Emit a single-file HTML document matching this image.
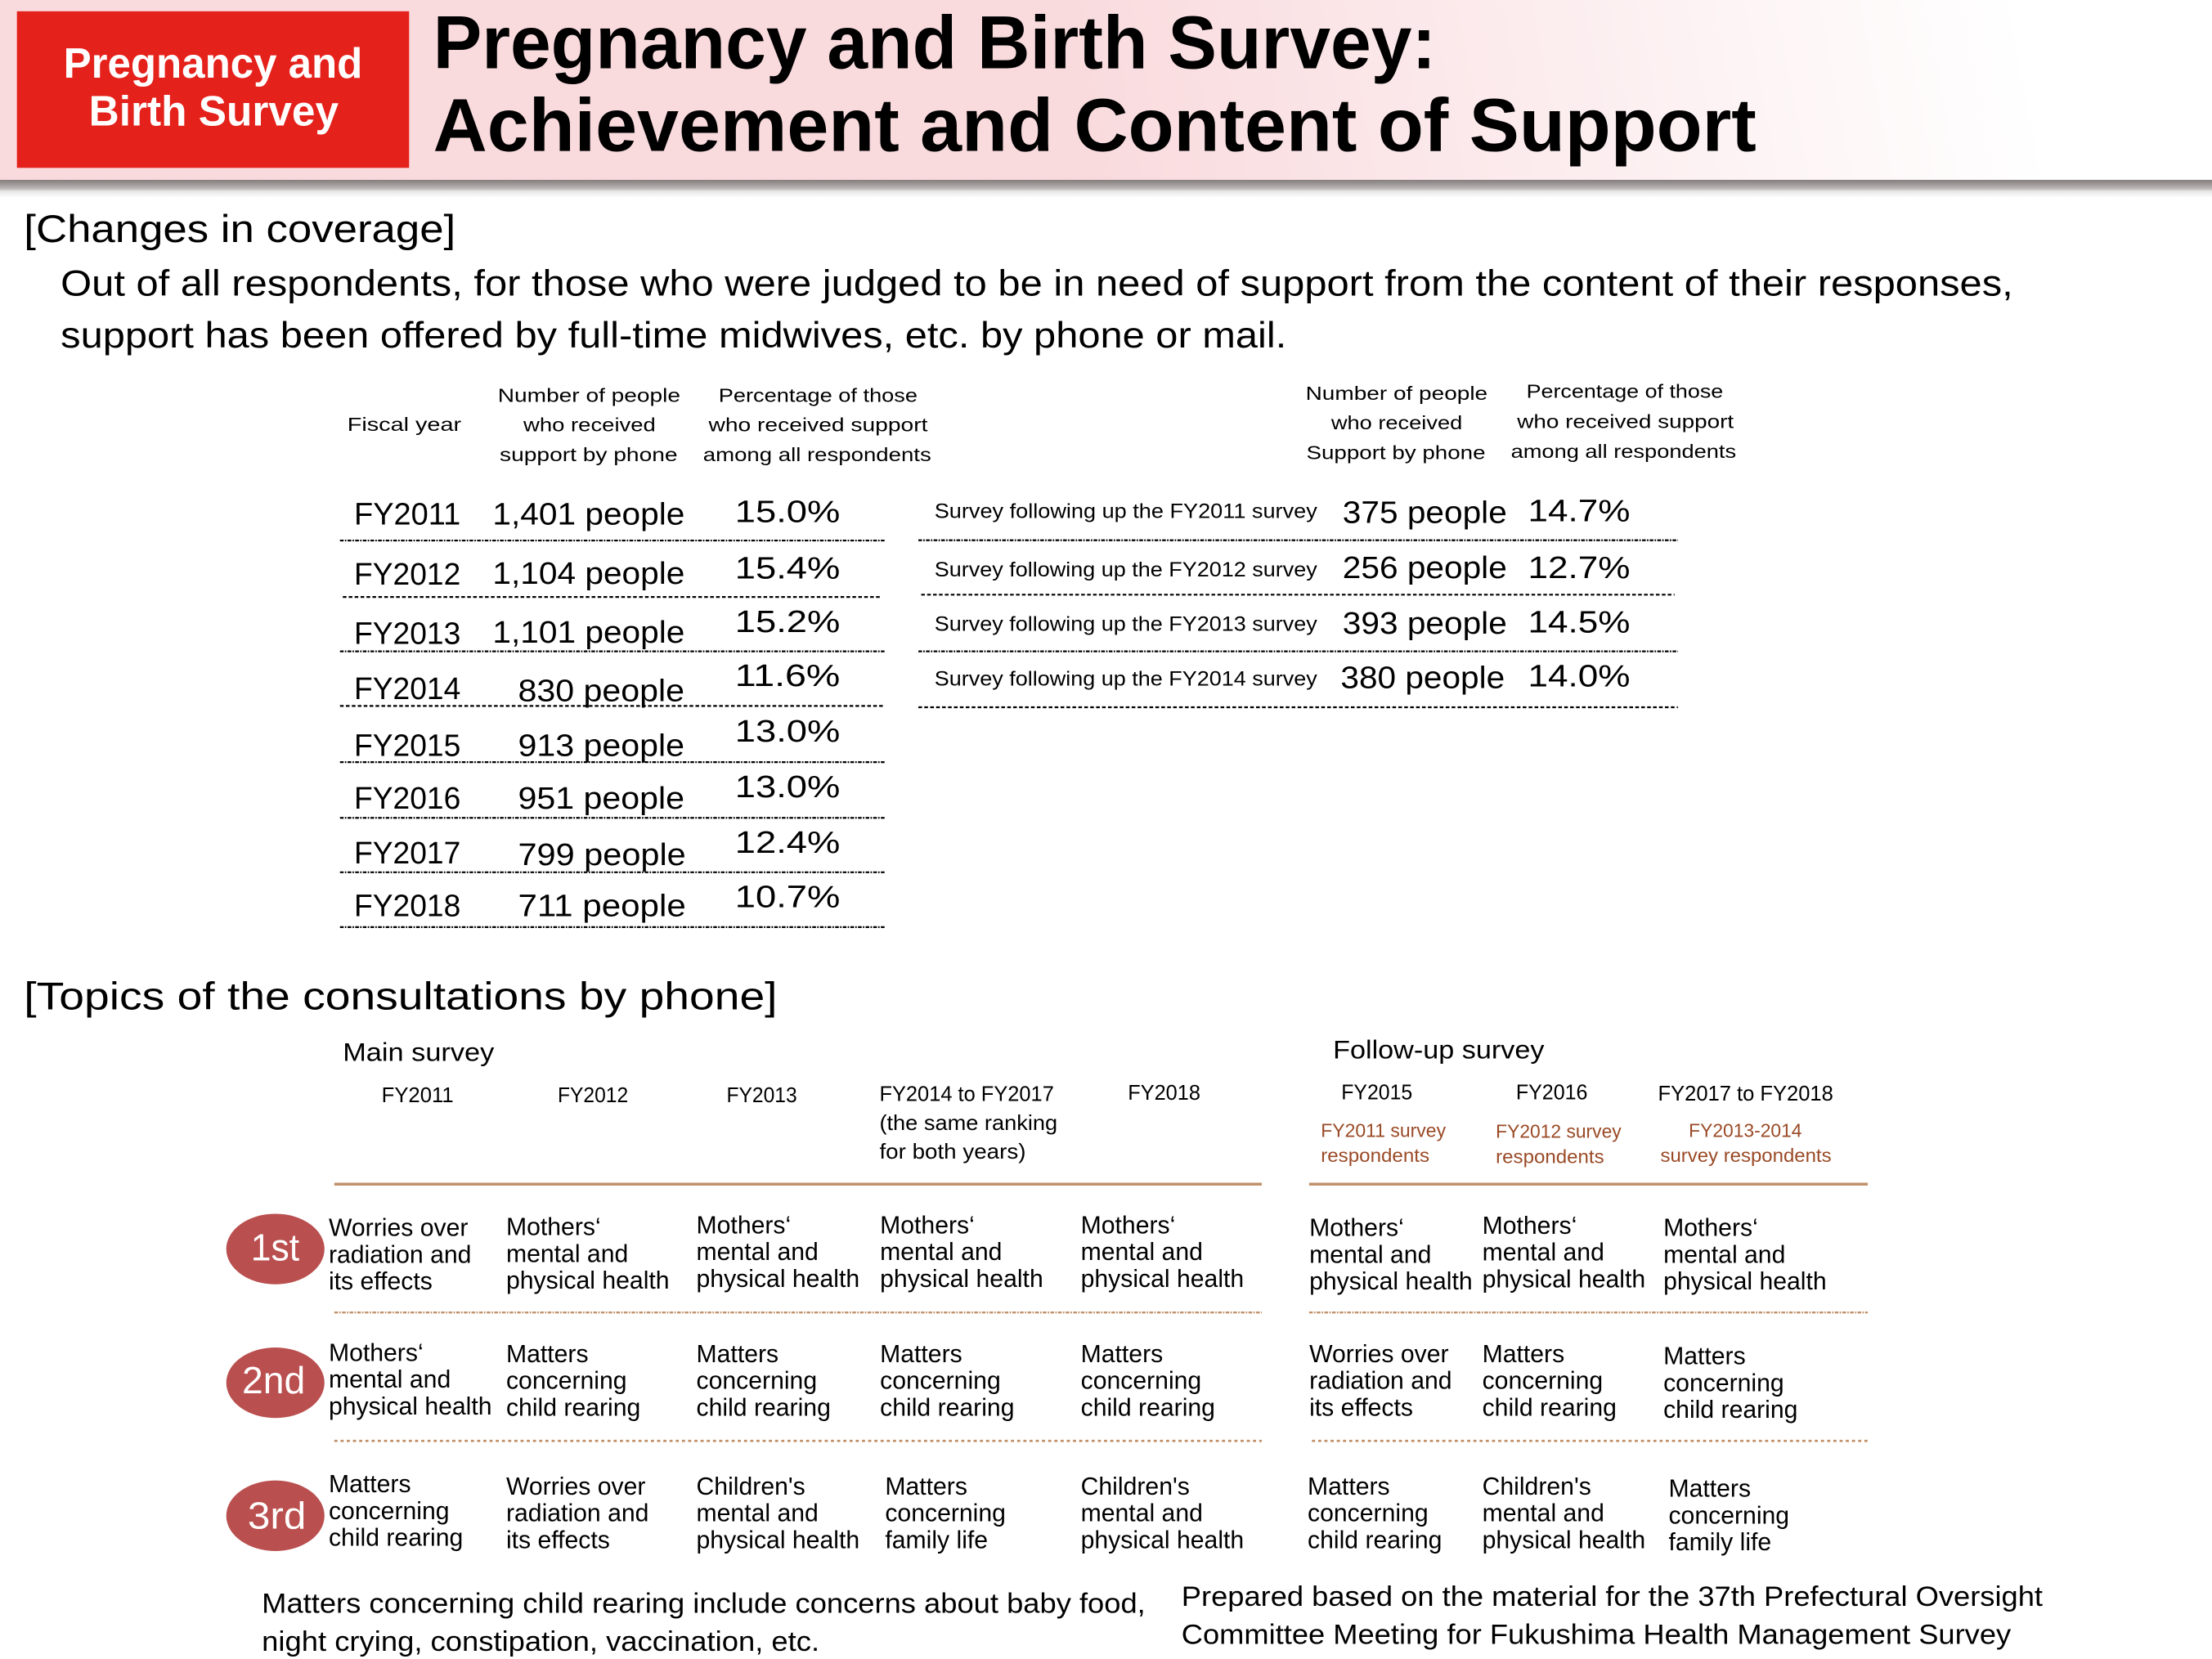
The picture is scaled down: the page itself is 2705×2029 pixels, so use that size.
<!DOCTYPE html>
<html>
<head>
<meta charset="utf-8">
<style>
html,body{margin:0;padding:0;background:#fff;}
body{width:2705px;height:2029px;overflow:hidden;}
svg{display:block;}
text{font-family:"Liberation Sans",Arial,sans-serif;}
</style>
</head>
<body>
<svg width="2705" height="2029" viewBox="0 0 1568 1176.15" preserveAspectRatio="none" xmlns="http://www.w3.org/2000/svg">
<defs>
  <linearGradient id="hdrW" gradientUnits="userSpaceOnUse" x1="760" y1="125" x2="1430" y2="0">
    <stop offset="0" stop-color="#ffffff" stop-opacity="0"/>
    <stop offset="0.55" stop-color="#ffffff" stop-opacity="0.55"/>
    <stop offset="1" stop-color="#ffffff" stop-opacity="1"/>
  </linearGradient>
  <linearGradient id="shadow" x1="0" y1="0" x2="0" y2="1">
    <stop offset="0" stop-color="#847e7d"/>
    <stop offset="0.5" stop-color="#a39e9d"/>
    <stop offset="1" stop-color="#cdc9c8"/>
  </linearGradient>
  <linearGradient id="shadow2" x1="0" y1="0" x2="0" y2="1">
    <stop offset="0" stop-color="#e4e1e1"/>
    <stop offset="1" stop-color="#ffffff"/>
  </linearGradient>
</defs>

<!-- Header -->
<rect x="0" y="0" width="1568" height="127.5" fill="#f9dadd"/>
<rect x="0" y="0" width="1568" height="127.5" fill="url(#hdrW)"/>
<rect x="0" y="127.5" width="1568" height="7.5" fill="url(#shadow)"/>
<rect x="0" y="135" width="1568" height="5" fill="url(#shadow2)"/>
<rect x="12" y="8" width="278" height="111" fill="#e4211b"/>
<text x="45" y="55" font-size="30" font-weight="bold" fill="#ffffff" textLength="212" lengthAdjust="spacingAndGlyphs">Pregnancy and</text>
<text x="63" y="89" font-size="30" font-weight="bold" fill="#ffffff" textLength="177" lengthAdjust="spacingAndGlyphs">Birth Survey</text>
<text x="307" y="48.5" font-size="53" font-weight="bold" fill="#000" textLength="711" lengthAdjust="spacingAndGlyphs">Pregnancy and Birth Survey:</text>
<text x="307" y="107" font-size="53" font-weight="bold" fill="#000" textLength="938" lengthAdjust="spacingAndGlyphs">Achievement and Content of Support</text>

<!-- Changes in coverage -->
<text x="17" y="171.5" font-size="27.5" fill="#000" textLength="306" lengthAdjust="spacingAndGlyphs">[Changes in coverage]</text>
<text x="43" y="209.7" font-size="25.8" fill="#000" textLength="1384" lengthAdjust="spacingAndGlyphs">Out of all respondents, for those who were judged to be in need of support from the content of their responses,</text>
<text x="43" y="246.4" font-size="25.8" fill="#000" textLength="869" lengthAdjust="spacingAndGlyphs">support has been offered by full-time midwives, etc. by phone or mail.</text>

<!-- Table headers -->
<g font-size="13.5" fill="#000">
  <text x="246.2" y="305.4" textLength="80.8" lengthAdjust="spacingAndGlyphs">Fiscal year</text>
  <text x="352.9" y="285" textLength="129.4" lengthAdjust="spacingAndGlyphs">Number of people</text>
  <text x="371" y="305.9" textLength="93.8" lengthAdjust="spacingAndGlyphs">who received</text>
  <text x="354.2" y="326.8" textLength="126.1" lengthAdjust="spacingAndGlyphs">support by phone</text>
  <text x="509.4" y="285" textLength="141" lengthAdjust="spacingAndGlyphs">Percentage of those</text>
  <text x="502.3" y="305.9" textLength="155.3" lengthAdjust="spacingAndGlyphs">who received support</text>
  <text x="498.4" y="326.8" textLength="161.7" lengthAdjust="spacingAndGlyphs">among all respondents</text>

  <text x="925.5" y="283.5" textLength="129" lengthAdjust="spacingAndGlyphs">Number of people</text>
  <text x="943.6" y="304.3" textLength="93" lengthAdjust="spacingAndGlyphs">who received</text>
  <text x="926" y="325.6" textLength="127" lengthAdjust="spacingAndGlyphs">Support by phone</text>
  <text x="1082" y="282.1" textLength="139.5" lengthAdjust="spacingAndGlyphs">Percentage of those</text>
  <text x="1075.4" y="303.4" textLength="153.6" lengthAdjust="spacingAndGlyphs">who received support</text>
  <text x="1071" y="324.6" textLength="159.7" lengthAdjust="spacingAndGlyphs">among all respondents</text>
</g>

<!-- Left table rows -->
<g font-size="22" fill="#000">
  <text x="251" y="372" textLength="75.5" lengthAdjust="spacingAndGlyphs">FY2011</text>
  <text x="251" y="414.5" textLength="75.5" lengthAdjust="spacingAndGlyphs">FY2012</text>
  <text x="251" y="456.5" textLength="75.5" lengthAdjust="spacingAndGlyphs">FY2013</text>
  <text x="251" y="495.6" textLength="75.5" lengthAdjust="spacingAndGlyphs">FY2014</text>
  <text x="251" y="535.8" textLength="75.5" lengthAdjust="spacingAndGlyphs">FY2015</text>
  <text x="251" y="573.3" textLength="75.5" lengthAdjust="spacingAndGlyphs">FY2016</text>
  <text x="251" y="612.1" textLength="75.5" lengthAdjust="spacingAndGlyphs">FY2017</text>
  <text x="251" y="649.5" textLength="75.5" lengthAdjust="spacingAndGlyphs">FY2018</text>

  <text x="349.2" y="372" textLength="136.2" lengthAdjust="spacingAndGlyphs">1,401 people</text>
  <text x="349.2" y="414" textLength="136.2" lengthAdjust="spacingAndGlyphs">1,104 people</text>
  <text x="349.2" y="455.6" textLength="136.2" lengthAdjust="spacingAndGlyphs">1,101 people</text>
  <text x="367.2" y="497" textLength="118" lengthAdjust="spacingAndGlyphs">830 people</text>
  <text x="367.2" y="535.8" textLength="118" lengthAdjust="spacingAndGlyphs">913 people</text>
  <text x="367.2" y="573.3" textLength="118" lengthAdjust="spacingAndGlyphs">951 people</text>
  <text x="367.2" y="613.4" textLength="119" lengthAdjust="spacingAndGlyphs">799 people</text>
  <text x="367.2" y="649.5" textLength="119" lengthAdjust="spacingAndGlyphs">711 people</text>

  <text x="521" y="370.1" textLength="74.5" lengthAdjust="spacingAndGlyphs">15.0%</text>
  <text x="521" y="410.2" textLength="74.5" lengthAdjust="spacingAndGlyphs">15.4%</text>
  <text x="521" y="448.1" textLength="74.5" lengthAdjust="spacingAndGlyphs">15.2%</text>
  <text x="521" y="486.4" textLength="74.5" lengthAdjust="spacingAndGlyphs">11.6%</text>
  <text x="521" y="525.7" textLength="74.5" lengthAdjust="spacingAndGlyphs">13.0%</text>
  <text x="521" y="565.3" textLength="74.5" lengthAdjust="spacingAndGlyphs">13.0%</text>
  <text x="521" y="604.6" textLength="74.5" lengthAdjust="spacingAndGlyphs">12.4%</text>
  <text x="521" y="643.2" textLength="74.5" lengthAdjust="spacingAndGlyphs">10.7%</text>
</g>

<!-- Left dotted lines -->
<g stroke="#000" stroke-width="1.3" fill="none">
  <line x1="241" y1="383.2" x2="627" y2="383.2" stroke-dasharray="2.6 0.9 1 0.9"/>
  <line x1="243" y1="423.2" x2="625" y2="423.2" stroke-dasharray="2.6 1.6"/>
  <line x1="241" y1="461.8" x2="627" y2="461.8" stroke-dasharray="2.6 0.9 1 0.9"/>
  <line x1="241" y1="500.5" x2="627" y2="500.5" stroke-dasharray="2.6 1.6"/>
  <line x1="241" y1="540.3" x2="627" y2="540.3" stroke-dasharray="2.6 0.9 1 0.9"/>
  <line x1="241" y1="579.8" x2="627" y2="579.8" stroke-dasharray="2.6 0.9 1 0.9"/>
  <line x1="241" y1="618.4" x2="627" y2="618.4" stroke-dasharray="2.6 0.9 1 0.9"/>
  <line x1="241" y1="657.3" x2="627" y2="657.3" stroke-dasharray="2.6 0.9 1 0.9"/>
</g>

<!-- Right table rows -->
<g font-size="14.5" fill="#000">
  <text x="662.4" y="367.1" textLength="271.3" lengthAdjust="spacingAndGlyphs">Survey following up the FY2011 survey</text>
  <text x="662.4" y="408.7" textLength="271.3" lengthAdjust="spacingAndGlyphs">Survey following up the FY2012 survey</text>
  <text x="662.4" y="447.3" textLength="271.3" lengthAdjust="spacingAndGlyphs">Survey following up the FY2013 survey</text>
  <text x="662.4" y="486" textLength="271.3" lengthAdjust="spacingAndGlyphs">Survey following up the FY2014 survey</text>
</g>
<g font-size="22" fill="#000">
  <text x="951.7" y="370.6" textLength="116.5" lengthAdjust="spacingAndGlyphs">375 people</text>
  <text x="951.7" y="409.7" textLength="116.5" lengthAdjust="spacingAndGlyphs">256 people</text>
  <text x="951.7" y="449.3" textLength="116.5" lengthAdjust="spacingAndGlyphs">393 people</text>
  <text x="950.3" y="487.9" textLength="116.4" lengthAdjust="spacingAndGlyphs">380 people</text>
  <text x="1083.1" y="369.5" textLength="72.4" lengthAdjust="spacingAndGlyphs">14.7%</text>
  <text x="1083.1" y="409.7" textLength="72.4" lengthAdjust="spacingAndGlyphs">12.7%</text>
  <text x="1083.1" y="448.3" textLength="72.4" lengthAdjust="spacingAndGlyphs">14.5%</text>
  <text x="1083.1" y="486.6" textLength="72.4" lengthAdjust="spacingAndGlyphs">14.0%</text>
</g>
<g stroke="#000" stroke-width="1.3" fill="none">
  <line x1="651" y1="383" x2="1189.4" y2="383" stroke-dasharray="2.6 0.9 1 0.9"/>
  <line x1="653" y1="421.6" x2="1187" y2="421.6" stroke-dasharray="2.6 1.6"/>
  <line x1="651" y1="461.8" x2="1189.4" y2="461.8" stroke-dasharray="2.6 0.9 1 0.9"/>
  <line x1="651" y1="501.4" x2="1189.4" y2="501.4" stroke-dasharray="2.6 1.6"/>
</g>

<!-- Topics section -->
<text x="17" y="715.7" font-size="27.5" fill="#000" textLength="534" lengthAdjust="spacingAndGlyphs">[Topics of the consultations by phone]</text>
<text x="243" y="752" font-size="18" fill="#000" textLength="107.3" lengthAdjust="spacingAndGlyphs">Main survey</text>
<text x="944.9" y="750.4" font-size="18" fill="#000" textLength="149.8" lengthAdjust="spacingAndGlyphs">Follow-up survey</text>

<g font-size="15" fill="#000">
  <text x="270.5" y="781.4" textLength="51" lengthAdjust="spacingAndGlyphs">FY2011</text>
  <text x="395.3" y="781.4" textLength="50" lengthAdjust="spacingAndGlyphs">FY2012</text>
  <text x="515" y="781.4" textLength="50" lengthAdjust="spacingAndGlyphs">FY2013</text>
  <text x="623.4" y="780.5" textLength="123.7" lengthAdjust="spacingAndGlyphs">FY2014 to FY2017</text>
  <text x="623.4" y="801" textLength="126.2" lengthAdjust="spacingAndGlyphs">(the same ranking</text>
  <text x="623.4" y="821.5" textLength="103.8" lengthAdjust="spacingAndGlyphs">for both years)</text>
  <text x="799.5" y="779.8" textLength="51.4" lengthAdjust="spacingAndGlyphs">FY2018</text>
  <text x="950.8" y="779.3" textLength="50.4" lengthAdjust="spacingAndGlyphs">FY2015</text>
  <text x="1074.6" y="779.5" textLength="50.8" lengthAdjust="spacingAndGlyphs">FY2016</text>
  <text x="1175.3" y="780.3" textLength="124.2" lengthAdjust="spacingAndGlyphs">FY2017 to FY2018</text>
</g>
<g font-size="13.5" fill="#9a4a26">
  <text x="936.3" y="806" textLength="88.6" lengthAdjust="spacingAndGlyphs">FY2011 survey</text>
  <text x="936.3" y="823.6" textLength="77" lengthAdjust="spacingAndGlyphs">respondents</text>
  <text x="1060.3" y="806.7" textLength="89" lengthAdjust="spacingAndGlyphs">FY2012 survey</text>
  <text x="1060.3" y="824.6" textLength="76.8" lengthAdjust="spacingAndGlyphs">respondents</text>
  <text x="1197.1" y="806" textLength="80.2" lengthAdjust="spacingAndGlyphs">FY2013-2014</text>
  <text x="1177" y="823.6" textLength="121.2" lengthAdjust="spacingAndGlyphs">survey respondents</text>
</g>

<!-- Tan lines -->
<g stroke="#c0916a" fill="none">
  <line x1="237" y1="839.5" x2="894.4" y2="839.5" stroke-width="2"/>
  <line x1="928" y1="839.5" x2="1324" y2="839.5" stroke-width="2"/>
  <line x1="237" y1="930.5" x2="894.4" y2="930.5" stroke-width="1.4" stroke-dasharray="2.6 0.9 1 0.9"/>
  <line x1="928" y1="930.5" x2="1324" y2="930.5" stroke-width="1.4" stroke-dasharray="2.6 0.9 1 0.9"/>
  <line x1="237" y1="1021.5" x2="894.4" y2="1021.5" stroke-width="1.6" stroke-dasharray="2.2 2.2"/>
  <line x1="930" y1="1021.5" x2="1324" y2="1021.5" stroke-width="1.6" stroke-dasharray="2.2 2.2"/>
</g>

<!-- Rank circles -->
<g fill="#b94f4e">
  <ellipse cx="195.2" cy="885.5" rx="34.8" ry="25"/>
  <ellipse cx="195.2" cy="980.3" rx="34.8" ry="25"/>
  <ellipse cx="195.2" cy="1074.6" rx="34.8" ry="25"/>
</g>
<g font-size="27" fill="#ffffff">
  <text x="177.8" y="893.7" textLength="34.4" lengthAdjust="spacingAndGlyphs">1st</text>
  <text x="171.6" y="987.8" textLength="44.8" lengthAdjust="spacingAndGlyphs">2nd</text>
  <text x="175.6" y="1083.7" textLength="41.4" lengthAdjust="spacingAndGlyphs">3rd</text>
</g>

<!-- Topic cells -->
<g font-size="17.5" fill="#000">
  <!-- Row 1 -->
  <text x="233" y="876.3">Worries over</text>
  <text x="233" y="895.3">radiation and</text>
  <text x="233" y="914.2">its effects</text>

  <text x="358.8" y="875.7">Mothers‘</text>
  <text x="358.8" y="894.7">mental and</text>
  <text x="358.8" y="913.7">physical health</text>

  <text x="493.6" y="874.3">Mothers‘</text>
  <text x="493.6" y="893.3">mental and</text>
  <text x="493.6" y="912.3">physical health</text>

  <text x="623.8" y="874.3">Mothers‘</text>
  <text x="623.8" y="893.3">mental and</text>
  <text x="623.8" y="912.3">physical health</text>

  <text x="766.1" y="874.3">Mothers‘</text>
  <text x="766.1" y="893.3">mental and</text>
  <text x="766.1" y="912.3">physical health</text>

  <text x="928.1" y="876.3">Mothers‘</text>
  <text x="928.1" y="895.3">mental and</text>
  <text x="928.1" y="914.2">physical health</text>

  <text x="1050.7" y="874.7">Mothers‘</text>
  <text x="1050.7" y="893.7">mental and</text>
  <text x="1050.7" y="912.7">physical health</text>

  <text x="1179.1" y="876.3">Mothers‘</text>
  <text x="1179.1" y="895.3">mental and</text>
  <text x="1179.1" y="914.2">physical health</text>

  <!-- Row 2 -->
  <text x="233" y="964.8">Mothers‘</text>
  <text x="233" y="983.7">mental and</text>
  <text x="233" y="1002.7">physical health</text>

  <text x="358.8" y="965.7">Matters</text>
  <text x="358.8" y="984.7">concerning</text>
  <text x="358.8" y="1003.6">child rearing</text>

  <text x="493.6" y="965.7">Matters</text>
  <text x="493.6" y="984.7">concerning</text>
  <text x="493.6" y="1003.6">child rearing</text>

  <text x="623.8" y="965.7">Matters</text>
  <text x="623.8" y="984.7">concerning</text>
  <text x="623.8" y="1003.6">child rearing</text>

  <text x="766.1" y="965.7">Matters</text>
  <text x="766.1" y="984.7">concerning</text>
  <text x="766.1" y="1003.6">child rearing</text>

  <text x="928.1" y="965.7">Worries over</text>
  <text x="928.1" y="984.7">radiation and</text>
  <text x="928.1" y="1003.6">its effects</text>

  <text x="1050.7" y="965.7">Matters</text>
  <text x="1050.7" y="984.7">concerning</text>
  <text x="1050.7" y="1003.6">child rearing</text>

  <text x="1179.1" y="967.3">Matters</text>
  <text x="1179.1" y="986.3">concerning</text>
  <text x="1179.1" y="1005.2">child rearing</text>

  <!-- Row 3 -->
  <text x="233" y="1058">Matters</text>
  <text x="233" y="1076.9">concerning</text>
  <text x="233" y="1095.9">child rearing</text>

  <text x="358.8" y="1059.5">Worries over</text>
  <text x="358.8" y="1078.5">radiation and</text>
  <text x="358.8" y="1097.5">its effects</text>

  <text x="493.6" y="1059.5">Children's</text>
  <text x="493.6" y="1078.5">mental and</text>
  <text x="493.6" y="1097.5">physical health</text>

  <text x="627.4" y="1059.5">Matters</text>
  <text x="627.4" y="1078.5">concerning</text>
  <text x="627.4" y="1097.5">family life</text>

  <text x="766.1" y="1059.5">Children's</text>
  <text x="766.1" y="1078.5">mental and</text>
  <text x="766.1" y="1097.5">physical health</text>

  <text x="926.9" y="1059.5">Matters</text>
  <text x="926.9" y="1078.5">concerning</text>
  <text x="926.9" y="1097.5">child rearing</text>

  <text x="1050.7" y="1059.5">Children's</text>
  <text x="1050.7" y="1078.5">mental and</text>
  <text x="1050.7" y="1097.5">physical health</text>

  <text x="1182.8" y="1061.1">Matters</text>
  <text x="1182.8" y="1080.1">concerning</text>
  <text x="1182.8" y="1099.1">family life</text>
</g>

<!-- Footnotes -->
<g font-size="20" fill="#000">
  <text x="185.6" y="1143.3" textLength="626.4" lengthAdjust="spacingAndGlyphs">Matters concerning child rearing include concerns about baby food,</text>
  <text x="185.6" y="1170.4" textLength="395.3" lengthAdjust="spacingAndGlyphs">night crying, constipation, vaccination, etc.</text>
  <text x="837.5" y="1138.6" textLength="610.5" lengthAdjust="spacingAndGlyphs">Prepared based on the material for the 37th Prefectural Oversight</text>
  <text x="837.5" y="1165.5" textLength="588" lengthAdjust="spacingAndGlyphs">Committee Meeting for Fukushima Health Management Survey</text>
</g>
</svg>
</body>
</html>
